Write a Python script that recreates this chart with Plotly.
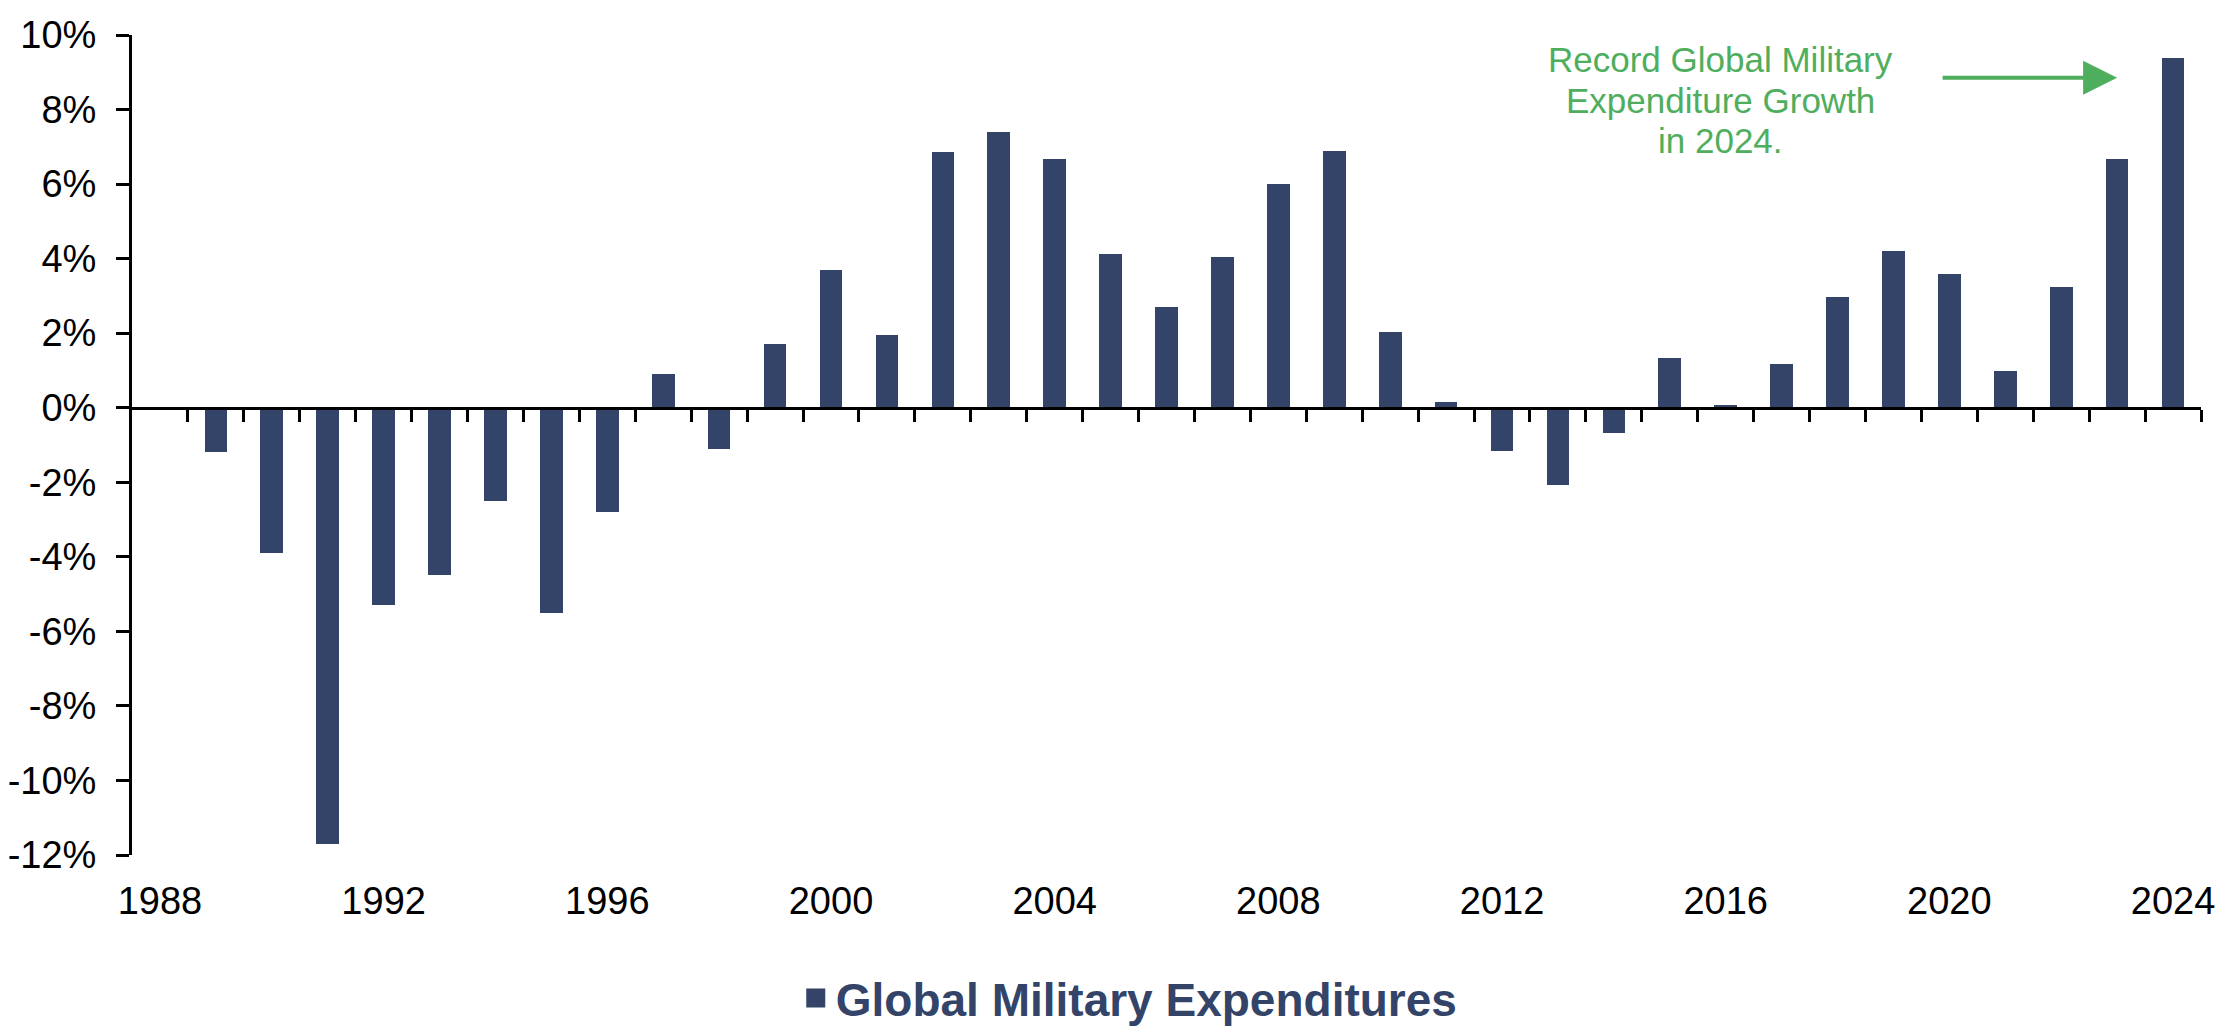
import plotly.graph_objects as go

years = list(range(1988, 2025))
growth = [None, -1.2, -3.9, -11.7, -5.3, -4.5, -2.5, -5.5, -2.8, 0.9, -1.1,
          1.7, 3.7, 1.95, 6.85, 7.4, 6.68, 4.12, 2.71, 4.05, 5.99, 6.9,
          2.02, 0.15, -1.15, -2.06, -0.69, 1.34, 0.08, 1.18, 2.98, 4.2,
          3.59, 0.99, 3.24, 6.68, 9.39]
series_name = "Global Military Expenditures"
x_tick_years = list(range(1988, 2025, 4))
x_tick_labels = [str(y) for y in x_tick_years]
y_tick_values = list(range(-12, 11, 2))
y_tick_labels = [f"{v}%" for v in y_tick_values]
boundaries = [y + 0.5 for y in range(1988, 2025)]
note_lines = ["Record Global Military", "Expenditure Growth", "in 2024."]

NAVY = "#344469"
GREEN = "#4FAE5E"
FONT = "Liberation Sans, Arial, sans-serif"

fig = go.Figure()
fig.add_trace(go.Bar(x=years, y=growth, width=0.405, marker_color=NAVY,
                     marker_line_width=0, showlegend=False, name=series_name))
fig.add_trace(go.Scatter(x=[None], y=[None], mode="markers", name=series_name,
                         marker=dict(symbol="square", size=20, color=NAVY,
                                     line=dict(width=3, color=NAVY)),
                         showlegend=True))
fig.add_trace(go.Scatter(x=[None], y=[None], xaxis="x2", showlegend=False))

rng_x = [1987.5, 2024.5]
ymin, ymax = -12, 10

fig.update_layout(
    width=2224, height=1034,
    margin=dict(l=132, r=23, t=35, b=179, autoexpand=False),
    paper_bgcolor="white", plot_bgcolor="white",
    font=dict(family=FONT, color="black", size=38),
    xaxis=dict(range=rng_x, tickvals=x_tick_years, ticktext=x_tick_labels,
               showline=False, showgrid=False, zeroline=False, ticks="",
               automargin=False,
               ticklabelstandoff=20, tickfont=dict(size=38, family=FONT)),
    xaxis2=dict(range=rng_x, overlaying="x", anchor="free",
                position=(0 - ymin) / (ymax - ymin), side="bottom",
                showline=True, linecolor="black", linewidth=3,
                ticks="outside", ticklen=12, tickwidth=3, tickcolor="black",
                tickvals=boundaries, showticklabels=False, automargin=False,
                showgrid=False, zeroline=False),
    yaxis=dict(range=[ymin, ymax], tickvals=y_tick_values, ticktext=y_tick_labels,
               showline=True, linecolor="black", linewidth=3,
               ticks="outside", ticklen=13, tickwidth=3, tickcolor="black",
               showgrid=False, zeroline=False, ticklabelstandoff=12,
               automargin=False, tickfont=dict(size=38, family=FONT)),
    legend=dict(orientation="h", x=0.482, xanchor="center", y=-0.1744,
                yanchor="middle", font=dict(size=46, family=FONT, color=NAVY,
                                            weight="bold"),
                itemsizing="trace", bgcolor="rgba(0,0,0,0)"),
    bargap=0,
)

for i, line in enumerate(note_lines):
    fig.add_annotation(x=2015.9, y=8.24, xref="x", yref="y", text=line,
                       yshift=41 - 40.5 * i, showarrow=False, align="center",
                       font=dict(family=FONT, size=35, color=GREEN),
                       xanchor="center", yanchor="middle")
fig.add_annotation(x=2023.0, y=8.85, xref="x", yref="y", text="",
                   showarrow=True, ax=-176, ay=0, arrowhead=2, arrowsize=1.7,
                   arrowwidth=4, arrowcolor=GREEN, standoff=0)

fig.write_html("out.html")
